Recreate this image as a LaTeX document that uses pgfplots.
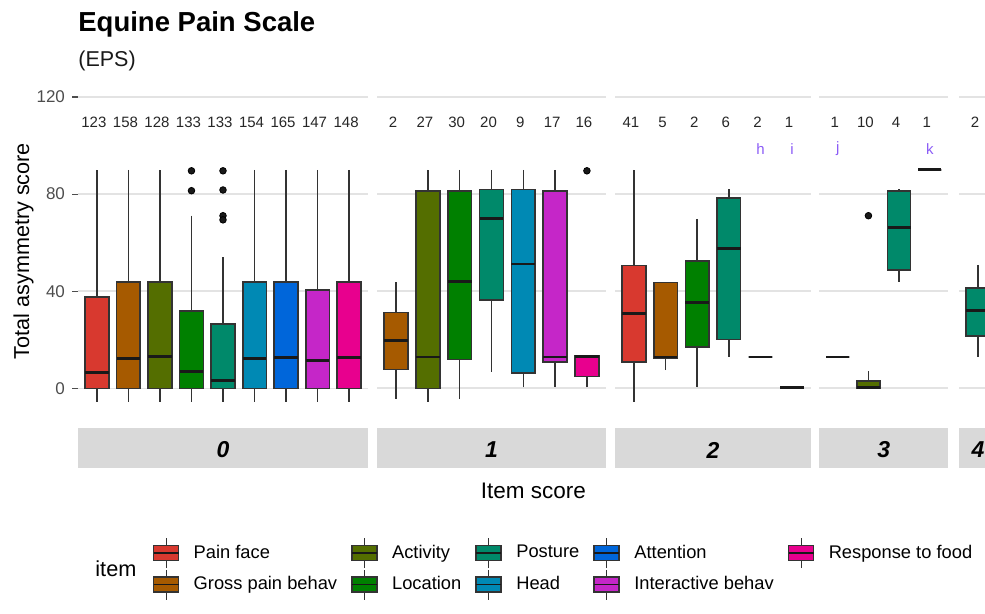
\documentclass[border=0pt]{standalone}
\usepackage{fontspec}
\setmainfont{Liberation Sans}
\usepackage{pgfplots}
\usepackage{pgfplotstable}
\pgfplotsset{compat=1.18}
\usepgfplotslibrary{statistics}

\definecolor{cPain}{HTML}{D8392F}
\definecolor{cGross}{HTML}{A65A00}
\definecolor{cAct}{HTML}{546E00}
\definecolor{cLoc}{HTML}{008000}
\definecolor{cPost}{HTML}{00896A}
\definecolor{cHead}{HTML}{0089B4}
\definecolor{cAtt}{HTML}{0066DA}
\definecolor{cInt}{HTML}{C526C8}
\definecolor{cResp}{HTML}{E8008E}
\definecolor{boxline}{HTML}{333333}
\definecolor{gridc}{HTML}{E3E3E3}
\definecolor{stripc}{HTML}{D9D9D9}
\definecolor{axtext}{HTML}{4D4D4D}
\definecolor{notec}{HTML}{8B5CF6}

% box statistics per item score (pos = position within the facet, n = sample size)
\pgfplotstableread{
pos lw   lq  med  uq   uw   n
1   -5.5 0   6.7  37.6 90   123
2   -5.5 0   12.2 43.8 90   158
3   -5.5 0   13.3 43.8 90   128
4   -5.5 0   6.8  31.9 71.1 133
5   -5.5 0   3.1  26.4 54.0 133
6   -5.5 0   12.2 43.8 90   154
7   -5.5 0   12.7 43.8 90   165
8   -5.5 0   11.5 40.6 90   147
9   -5.5 0   12.7 43.8 90   148
}\tA
\pgfplotstableread{
pos lw   lq   med  uq   uw   n
1   -4.4 7.7  19.8 31.2 43.8 2
2   -5.5 0    12.9 81.4 90   27
3   -4.4 11.9 43.9 81.4 90   30
4   6.8  36.5 69.9 81.9 90   20
5   0.4  6.4  51.2 81.9 90   9
6   0.4  10.9 12.9 81.4 90   17
7   0.4  4.9  13.1 13.4 13.4 16
}\tB
\pgfplotstableread{
pos lw   lq   med  uq   uw   n
1   -5.5 10.9 30.9 50.6 90   41
2   7.5  12.4 12.9 43.6 43.6 5
3   0.4  17.1 35.2 52.4 69.8 2
4   13.0 20.1 57.5 78.4 82.1 6
5   12.9 12.9 12.9 12.9 12.9 2
6   0.4  0.4  0.4  0.4  0.4  1
}\tC
\pgfplotstableread{
pos lw   lq   med  uq   uw   n
1   12.9 12.9 12.9 12.9 12.9 1
2   0    0    0.5  3.0  7.1  10
3   44.0 48.8 66.3 81.4 82.0 4
4   90   90   90   90   90   1
}\tD
\pgfplotstableread{
pos lw   lq   med  uq   uw   n
1   13.0 21.6 32.1 41.3 50.9 2
}\tE

% one box from row #2 of table #1, drawn at x = #3 with fill #4
\newcommand\ebox[4]{%
  \pgfplotstablegetelem{#2}{lw}\of{#1}\let\vlw\pgfplotsretval
  \pgfplotstablegetelem{#2}{lq}\of{#1}\let\vlq\pgfplotsretval
  \pgfplotstablegetelem{#2}{med}\of{#1}\let\vmed\pgfplotsretval
  \pgfplotstablegetelem{#2}{uq}\of{#1}\let\vuq\pgfplotsretval
  \pgfplotstablegetelem{#2}{uw}\of{#1}\let\vuw\pgfplotsretval
  \edef\doit{\noexpand\addplot[fill=#4, draw=boxline, line width=0.8pt,
    boxplot prepared={draw position=#3,
      lower whisker=\vlw, lower quartile=\vlq, median=\vmed,
      upper quartile=\vuq, upper whisker=\vuw}] coordinates {};}%
  \doit}
\newcommand\counts[1]{%
  \addplot[draw=none, nodes near coords, point meta=explicit symbolic,
    nodes near coords style={anchor=center, text=black!85,
      font=\fontsize{7.5}{8}\selectfont, xshift=-1.5pt}]
    table[x=pos, y expr=109.6, meta=n] {#1};}

\pgfplotsset{
  panel/.style={
    scale only axis, height=167.65pt,
    ymin=-11.8, ymax=126.3, xmin=0.4,
    xtick=\empty, ytick={0,40,80,120},
    ymajorgrids, grid style={gridc, line width=0.85pt},
    axis line style={draw=none},
    anchor=south west, clip=false,
    boxplot/draw direction=y,
    boxplot/box extend=0.75,
    boxplot/whisker extend=0,
    boxplot/every median/.style={draw=black!90, line width=1.45pt},
  },
  boxkey/.style={legend image code/.code={
    \draw[boxline, line width=0.5pt] (6.25pt,-7.5pt) -- (6.25pt,7.5pt);
    \filldraw[draw=boxline, fill=#1, line width=0.8pt] (0pt,-3.75pt) rectangle (12.5pt,3.75pt);
    \draw[black!90, line width=0.8pt] (0pt,0pt) -- (12.5pt,0pt);
  }},
}

\begin{document}
\begin{tikzpicture}[x=1pt,y=1pt]
\useasboundingbox (0,0) rectangle (492.5,-307);
\clip (0,0) rectangle (492.5,-307);

\node[anchor=base west, inner sep=0pt, font=\fontsize{13.75}{16}\selectfont\bfseries] at (39,-15.85) {Equine Pain Scale};
\node[anchor=base west, inner sep=0pt, font=\fontsize{10.75}{13}\selectfont, text=black!90] at (39,-33.35) {(EPS)};
\node[rotate=90, font=\fontsize{10.8}{13}\selectfont] at (11.75,-125.5) {Total asymmetry score};
\node[anchor=base, font=\fontsize{11.25}{13}\selectfont] at (266.65,-249.15) {Item score};
\node[anchor=base west, inner sep=0pt, font=\fontsize{10.85}{13}\selectfont] at (47.5,-288.35) {item};

% score 0
\begin{axis}[panel, name=p0, at={(39pt,-208.5pt)}, width=145pt, xmax=9.6,
  ytick pos=left, tick align=outside, major tick length=3pt,
  ytick style={draw=axtext, line width=0.55pt},
  /pgf/number format/assume math mode=true,
  yticklabel style={font=\fontsize{8.5}{10}\selectfont, text=axtext},
  legend columns=5, legend cell align=left,
  legend style={at={(0.2576,-0.3594)}, anchor=north west, draw=none, fill=none,
    inner sep=0pt, outer sep=0pt, row sep=0.25pt,
    font=\fontsize{9.15}{11}\selectfont, nodes={inner sep=0pt},
    /tikz/every odd column/.append style={column sep=7.2pt},
    /tikz/every even column/.append style={column sep=7pt}},
  ]
\addlegendimage{boxkey=cPain}\addlegendentry{Pain face}
\addlegendimage{boxkey=cAct}\addlegendentry{Activity}
\addlegendimage{boxkey=cPost}\addlegendentry{Posture}
\addlegendimage{boxkey=cAtt}\addlegendentry{Attention}
\addlegendimage{boxkey=cResp}\addlegendentry{Response to food}
\addlegendimage{boxkey=cGross}\addlegendentry{Gross pain behav}
\addlegendimage{boxkey=cLoc}\addlegendentry{Location}
\addlegendimage{boxkey=cHead}\addlegendentry{Head}
\addlegendimage{boxkey=cInt}\addlegendentry{Interactive behav}
\ebox{\tA}{0}{1}{cPain}
\ebox{\tA}{1}{2}{cGross}
\ebox{\tA}{2}{3}{cAct}
\ebox{\tA}{3}{4}{cLoc}
\ebox{\tA}{4}{5}{cPost}
\ebox{\tA}{5}{6}{cHead}
\ebox{\tA}{6}{7}{cAtt}
\ebox{\tA}{7}{8}{cInt}
\ebox{\tA}{8}{9}{cResp}
\addplot[only marks, mark=*, mark size=1.65pt, mark options={fill=black!90, draw=none}]
  coordinates {(4,89.6) (4,81.4) (5,89.6) (5,81.7) (5,71.1) (5,69.4)};
\counts{\tA}
\end{axis}

% score 1
\begin{axis}[panel, name=p1, at={(188.5pt,-208.5pt)}, width=114.5pt, xmax=7.6,
  yticklabels={}, ytick style={draw=none}]
\ebox{\tB}{0}{1}{cGross}
\ebox{\tB}{1}{2}{cAct}
\ebox{\tB}{2}{3}{cLoc}
\ebox{\tB}{3}{4}{cPost}
\ebox{\tB}{4}{5}{cHead}
\ebox{\tB}{5}{6}{cInt}
\ebox{\tB}{6}{7}{cResp}
\addplot[only marks, mark=*, mark size=1.65pt, mark options={fill=black!90, draw=none}]
  coordinates {(7,89.6)};
\counts{\tB}
\end{axis}

% score 2
\begin{axis}[panel, name=p2, at={(307.5pt,-208.5pt)}, width=98pt, xmax=6.6,
  yticklabels={}, ytick style={draw=none}]
\ebox{\tC}{0}{1}{cPain}
\ebox{\tC}{1}{2}{cGross}
\ebox{\tC}{2}{3}{cLoc}
\ebox{\tC}{3}{4}{cPost}
\ebox{\tC}{4}{5}{cHead}
\ebox{\tC}{5}{6}{cInt}
\counts{\tC}
\node[text=notec, font=\fontsize{7.5}{8}\selectfont] at (axis cs:5,98.6) {h};
\node[text=notec, font=\fontsize{7.5}{8}\selectfont] at (axis cs:6,98.6) {i};
\end{axis}

% score 3
\begin{axis}[panel, name=p3, at={(409.65pt,-208.5pt)}, width=64.5pt, xmax=4.6,
  yticklabels={}, ytick style={draw=none}]
\ebox{\tD}{0}{1}{cGross}
\ebox{\tD}{1}{2}{cAct}
\ebox{\tD}{2}{3}{cPost}
\ebox{\tD}{3}{4}{cResp}
\addplot[only marks, mark=*, mark size=1.65pt, mark options={fill=black!90, draw=none}]
  coordinates {(2,71.1)};
\counts{\tD}
\node[text=notec, font=\fontsize{7.5}{8}\selectfont] at (axis cs:1,98.6) {j};
\node[text=notec, font=\fontsize{7.5}{8}\selectfont] at (axis cs:4,98.6) {k};
\end{axis}

% score 4
\begin{axis}[panel, name=p4, at={(479.5pt,-208.5pt)}, width=19pt, xmax=1.6,
  yticklabels={}, ytick style={draw=none}]
\ebox{\tE}{0}{1}{cPost}
\counts{\tE}
\end{axis}

% facet strips
\foreach \p/\l in {p0/0,p1/1,p2/2,p3/3,p4/4} {
  \fill[stripc] ([yshift=-5.65pt]\p.south west) rectangle ([yshift=-25.65pt]\p.south east);
  \node[font=\fontsize{11.5}{13}\selectfont\bfseries\itshape] at ([yshift=-16.5pt]\p.south) {\l};
}
\end{tikzpicture}
\end{document}
